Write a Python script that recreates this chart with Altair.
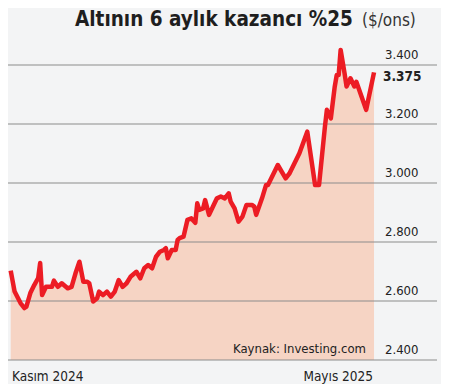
import altair as alt
import pandas as pd

# --- data ---
gun = [0,2,5,7,8,10,12,14,15,16,18,21,22,24,26,29,31,33,35,37,39,40,42,44,45,47,49,51,53,55,
       57,59,61,64,66,68,70,72,74,76,78,79,80,82,84,85,86,88,90,92,94,95,96,98,99,101,103,105,107,109,
       111,112,114,116,118,120,123,124,125,128,130,131,136,140,142,147,151,155,157,160,
       161,163,165,166,167,168,170,171,173,175,176,181,185]
fiyat = [2703,2632,2593,2576,2581,2627,2654,2678,2729,2620,2648,2648,2669,2648,2660,2643,2648,2694,2733,2665,
         2665,2660,2598,2609,2632,2620,2632,2615,2632,2671,2648,2660,2682,2699,2677,2711,2722,2711,2750,2767,
         2773,2779,2745,2773,2773,2807,2813,2818,2875,2880,2865,2931,2909,2914,2942,2892,2920,2948,2954,2948,
         2965,2937,2914,2869,2886,2925,2925,2920,2892,2949,2993,2993,3061,3016,3033,3101,3174,2993,2993,3191,
         3248,3219,3327,3366,3366,3451,3372,3327,3355,3327,3343,3248,3375]
grid_values = [2400, 2600, 2800, 3000, 3200, 3400]
grid_labels = ["2.400", "2.600", "2.800", "3.000", "3.200", "3.400"]
son_etiket = "3.375"
baslik = "Altının 6 aylık kazancı %25"
birim = "($/ons)"
x_baslangic = "Kasım 2024"
x_bitis = "Mayıs 2025"
kaynak = "Kaynak: Investing.com"

FONT = "DejaVu Sans Condensed, Roboto, sans-serif"
W, H = 433, 376

df = pd.DataFrame({"gun": gun, "fiyat": fiyat})
grid_df = pd.DataFrame({"deger": grid_values, "etiket": grid_labels})
last_df = pd.DataFrame({"gun": [gun[-1]], "fiyat": [fiyat[-1]], "etiket": [son_etiket]})

x_scale = alt.Scale(domain=[-1.37, 219.1], nice=False, zero=False)
y_scale = alt.Scale(domain=[2318.6, 3593.2], nice=False, zero=False)

X = alt.X("gun:Q", scale=x_scale, axis=None)
Y = alt.Y("fiyat:Q", scale=y_scale, axis=None)

area = alt.Chart(df).mark_area(color="#f6d4c4", opacity=1).encode(
    x=X, y=Y, y2=alt.datum(2400)
)

grid = alt.Chart(grid_df).mark_rule(color="#8c8c8c", strokeWidth=1.2).encode(
    y=alt.Y("deger:Q", scale=y_scale, axis=None),
    x=alt.value(-3), x2=alt.value(429)
)

grid_text = alt.Chart(grid_df).mark_text(
    align="left", baseline="alphabetic", dy=-6, font=FONT, fontSize=13, color="#222222"
).encode(
    y=alt.Y("deger:Q", scale=y_scale, axis=None),
    x=alt.value(377),
    text="etiket:N"
)

line = alt.Chart(df).mark_line(color="#ec1c24", strokeWidth=4.5, strokeJoin="round").encode(x=X, y=Y)

last_text = alt.Chart(last_df).mark_text(
    align="left", baseline="middle", dy=5, font=FONT, fontSize=13.5, fontWeight="bold", color="#222222"
).encode(y=Y, x=alt.value(375), text="etiket:N")

def label(txt, x, y, size, weight="normal", align="left", baseline="middle", color="#222222"):
    return alt.Chart(pd.DataFrame({"t": [txt]})).mark_text(
        align=align, baseline=baseline, font=FONT, fontSize=size, fontWeight=weight, color=color
    ).encode(x=alt.value(x), y=alt.value(y), text="t:N")

title = label(baslik, 67, 18, 20.5, "bold", baseline="alphabetic", color="#1e1e1e")
unit = label(birim, 354, 18, 17, "normal", baseline="alphabetic", color="#333333")
xl = label(x_baslangic, 4, 373, 13.5, baseline="alphabetic")
xr = label(x_bitis, 365, 373, 13.5, align="right", baseline="alphabetic")
src = label(kaynak, 358, 345, 13, align="right", baseline="alphabetic")

chart = alt.layer(area, grid, line, grid_text, last_text, title, unit, xl, xr, src).properties(
    width=W, height=H, padding=0, autosize=alt.AutoSizeParams(type="none"),
    background="#f3f4f5"
).configure_view(stroke=None)

chart.save("out.html", embed_options={"renderer": "svg", "actions": False})
